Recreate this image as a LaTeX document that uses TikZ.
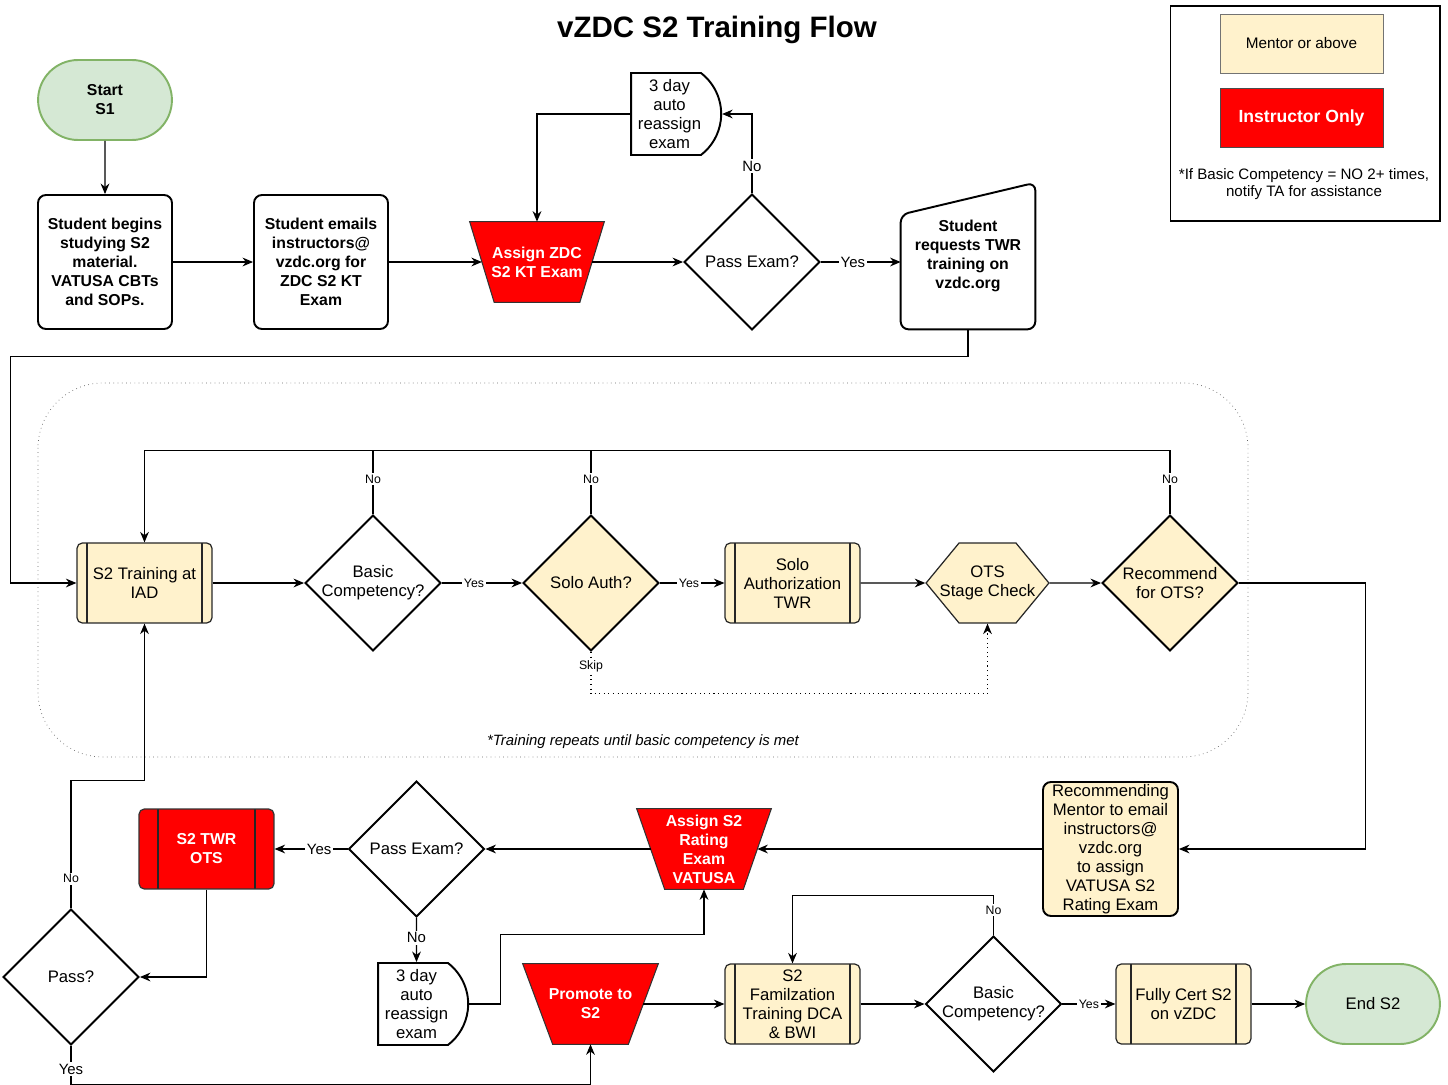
\documentclass[tikz,border=0pt]{standalone}
\usepackage{fontspec}
\setmainfont{Liberation Sans}
\usepackage{tikz}
\usetikzlibrary{arrows,arrows.meta,shapes,positioning,backgrounds}
\definecolor{zdccream}{RGB}{255,242,204}
\definecolor{zdcred}{RGB}{255,0,0}
\definecolor{zdcgreen}{RGB}{213,232,212}
\definecolor{zdcgreenline}{RGB}{130,179,102}
\tikzstyle{arrow} = [->,>={Stealth[length=6pt,width=5pt]},line width=0.6pt]
\tikzstyle{link} = [line width=0.6pt]
\tikzstyle{terminal} = [rounded rectangle, draw=zdcgreenline, fill=zdcgreen, line width=1.1pt, minimum width=2.9cm, minimum height=1.6cm, align=center]
\tikzstyle{stepbox} = [rectangle, rounded corners=4.5pt, draw, line width=1.1pt, minimum width=2.68cm, minimum height=2.68cm, align=center, font=\fontsize{9}{10.8}\selectfont\bfseries]
\tikzstyle{decision} = [diamond, draw, line width=1.1pt, minimum width=2.72cm, minimum height=2.72cm, inner sep=-2pt, align=center]
\tikzstyle{exam} = [rectangle, minimum width=2.68cm, minimum height=1.6cm, inner sep=0pt, text=white, font=\fontsize{9}{10.8}\selectfont\bfseries, align=center]
\tikzstyle{waitbox} = [rounded rectangle, rounded rectangle left arc=none, rounded rectangle arc length=105, draw, line width=1.1pt, minimum width=0pt, minimum height=1.64cm, inner xsep=-1pt, inner ysep=0pt, align=center]
\tikzstyle{stagebox} = [signal, signal to=west and east, signal pointer angle=101, draw=black!85, line width=0.7pt, fill=zdccream, minimum width=2.42cm, minimum height=1.6cm, inner xsep=-11pt, inner ysep=0pt, align=center]
\tikzset{process/.style={rectangle, rounded corners=3pt, draw=black!85, fill=zdccream, line width=0.7pt, minimum width=2.7cm, minimum height=1.6cm, inner sep=1pt, align=center,
  path picture={\draw[black!85, line width=0.7pt] ([xshift=#1]path picture bounding box.north west) -- ([xshift=#1]path picture bounding box.south west) ([xshift=-#1]path picture bounding box.north east) -- ([xshift=-#1]path picture bounding box.south east);}},
  process/.default=0.2cm}
\tikzstyle{lbl} = [fill=white, inner sep=1pt, font=\fontsize{8.5}{10}\selectfont]
\tikzstyle{smalllbl} = [fill=white, inner sep=1pt, font=\fontsize{7}{8}\selectfont]
% red exam outline behind a named exam node
\newcommand{\examoutline}[2]{\begin{pgfonlayer}{background}
  \filldraw[fill=zdcred, draw=black!80, line width=0.6pt] (#1.north west) -- (#1.north east) -- ([xshift=-#2]#1.south east) -- ([xshift=#2]#1.south west) -- cycle;
  \end{pgfonlayer}}

\begin{document}
\fontsize{9.5}{10.8}\selectfont
\begin{tikzpicture}[x=0.02cm, y=-0.02cm]
\useasboundingbox (0,0) rectangle (1448,1085);

\node[font=\fontsize{16.8}{20}\selectfont\bfseries] (title) at (717,30) {vZDC S2 Training Flow};

% legend
\node[draw, line width=0.6pt, minimum width=5.4cm, minimum height=4.3cm] (legend) at (1305,113.5) {};
\node[draw=black!55, fill=zdccream, minimum width=3.26cm, minimum height=1.18cm, font=\fontsize{8.7}{10}\selectfont] (mentorkey) at (1301.5,43.5) {Mentor or above};
\node[draw=black!70, fill=zdcred, text=white, minimum width=3.26cm, minimum height=1.18cm, font=\fontsize{10}{12}\selectfont\bfseries] (instrkey) at (1301.5,117.5) {Instructor Only};
\node[align=center, font=\fontsize{8.6}{9.3}\selectfont] (keynote) at (1304,184) {*If Basic Competency = NO 2+ times,\\notify TA for assistance};

% knowledge test
\node[terminal, font=\fontsize{9}{10.8}\selectfont\bfseries] (start) at (105,100) {Start\\S1};
\node[stepbox] (study) at (105,262) {Student begins\\studying S2\\material.\\VATUSA CBTs\\and SOPs.};
\node[stepbox] (email) at (321,262) {Student emails\\instructors@\\vzdc.org for\\ZDC S2 KT\\Exam};
\node[exam] (kt) at (537,262) {Assign ZDC\\S2 KT Exam};
\examoutline{kt}{0.49cm}
\node[decision] (pass1) at (752,262) {Pass Exam?};
\node[waitbox] (retry1) at (669.5,114) {3 day\\auto\\reassign\\exam};
\node[minimum width=2.68cm, minimum height=2.92cm, align=center, font=\fontsize{9}{10.8}\selectfont\bfseries] (request) at (968,256) {Student\\requests TWR\\training on\\vzdc.org};
\draw[rounded corners=4.5pt, line width=1.1pt] (request.south) -- (request.south west) -- ([yshift=-0.64cm]request.north west) -- (request.north east) -- (request.south east) -- cycle;

\draw[arrow] (start) -- (study);
\draw[arrow] (study) -- (email);
\draw[arrow] (email) -- ([xshift=0.245cm]kt.west);
\draw[arrow] ([xshift=-0.245cm]kt.east) -- (pass1);
\draw[arrow] (pass1.east) -- node[lbl, pos=0.4]{Yes} (pass1.east -| request.west);
\draw[arrow] (pass1.north) |- node[lbl, pos=0.17]{No} (retry1.east);
\draw[arrow] (retry1.west) -| (kt.north);

% training loop
\draw[dotted, black!60, rounded corners=1.3cm] (38,383) rectangle (1248,757);
\node[font=\fontsize{8.5}{10}\selectfont\itshape] (loopnote) at (643,742) {*Training repeats until basic competency is met};

\node[process] (train) at (144.5,583) {S2 Training at\\IAD};
\node[decision] (basic1) at (373,583) {Basic\\Competency?};
\node[decision, fill=zdccream] (solo) at (591,583) {Solo Auth?};
\node[process] (soloauth) at (792.5,583) {Solo\\Authorization\\TWR};
\node[stagebox] (ots) at (987.5,583) {OTS\\Stage Check};
\node[decision, fill=zdccream] (recommend) at (1170,583) {Recommend\\for OTS?};

\draw[arrow] (request.south) -- ++(0,27) -| ([xshift=-1.32cm]train.west) -- (train.west);
\draw[arrow] (train) -- (basic1);
\draw[arrow] (basic1) -- node[smalllbl, pos=0.4]{Yes} (solo);
\draw[arrow] (solo) -- node[smalllbl, pos=0.45]{Yes} (soloauth);
\draw[arrow] (soloauth) -- (ots);
\draw[arrow] (ots) -- (recommend);
\draw[arrow] (basic1.north) -- node[smalllbl, pos=0.55]{No} ++(0,-64) -| (train.north);
\draw[link] (solo.north) -- node[smalllbl, pos=0.55]{No} ++(0,-64) -| (train.north);
\draw[link] (recommend.north) -- node[smalllbl, pos=0.55]{No} ++(0,-64) -| (train.north);
\draw[arrow, dotted] (solo.south) -- node[smalllbl, pos=0.35]{Skip} ++(0,42) -| (ots.south);

% rating exam and OTS
\node[rectangle, rounded corners=4.5pt, draw, line width=1.1pt, fill=zdccream, minimum width=2.7cm, minimum height=2.68cm, inner sep=0pt, align=center] (mentor) at (1110.5,849) {Recommending\\Mentor to email\\instructors@\\vzdc.org\\to assign\\VATUSA S2\\Rating Exam};
\node[exam] (rating) at (704,849) {Assign S2\\Rating\\Exam\\VATUSA};
\examoutline{rating}{0.56cm}
\node[decision] (pass2) at (416.5,849) {Pass Exam?};
\node[process=0.38cm, fill=zdcred, draw=black!80, text=white, font=\fontsize{9}{10.8}\selectfont\bfseries] (twrots) at (206.5,849) {S2 TWR\\OTS};
\node[decision] (passots) at (71,977) {Pass?};
\node[waitbox] (retry2) at (416.5,1004) {3 day\\auto\\reassign\\exam};
\node[exam, minimum width=2.7cm] (promote) at (590.5,1004) {Promote to\\S2};
\examoutline{promote}{0.6cm}
\node[process] (fam) at (792.5,1004) {S2\\Familzation\\Training DCA\\\& BWI};
\node[decision] (basic2) at (993.5,1004) {Basic\\Competency?};
\node[process=0.3cm] (cert) at (1183.5,1004) {Fully Cert S2\\on vZDC};
\node[terminal] (finish) at (1373,1004) {End S2};

\draw[arrow] (recommend.east) -- ++(127,0) |- (mentor.east);
\draw[arrow] (mentor) -- ([xshift=-0.28cm]rating.east);
\draw[arrow] ([xshift=0.28cm]rating.west) -- (pass2);
\draw[arrow] (pass2) -- node[lbl, pos=0.39]{Yes} (twrots);
\draw[arrow] (pass2) -- node[lbl, pos=0.45]{No} (retry2);
\draw[arrow] (retry2.east) -- ++(31,0) |- ([yshift=-0.9cm]rating.south) -- (rating.south);
\draw[arrow] (twrots.south) |- (passots.east);
\draw[arrow] (passots.north) -- node[smalllbl, pos=0.23]{No} ++(0,-128) -| (train.south);
\draw[arrow] (passots.south) -- node[lbl, pos=0.6]{Yes} ++(0,39) -| (promote.south);
\draw[arrow] ([xshift=-0.3cm]promote.east) -- (fam);
\draw[arrow] (fam) -- (basic2);
\draw[arrow] (basic2) -- node[smalllbl, pos=0.5]{Yes} (cert);
\draw[arrow] (cert) -- (finish);
\draw[arrow] (basic2.north) -- node[smalllbl, pos=0.62]{No} ++(0,-40) -| (fam.north);
\end{tikzpicture}
\end{document}
